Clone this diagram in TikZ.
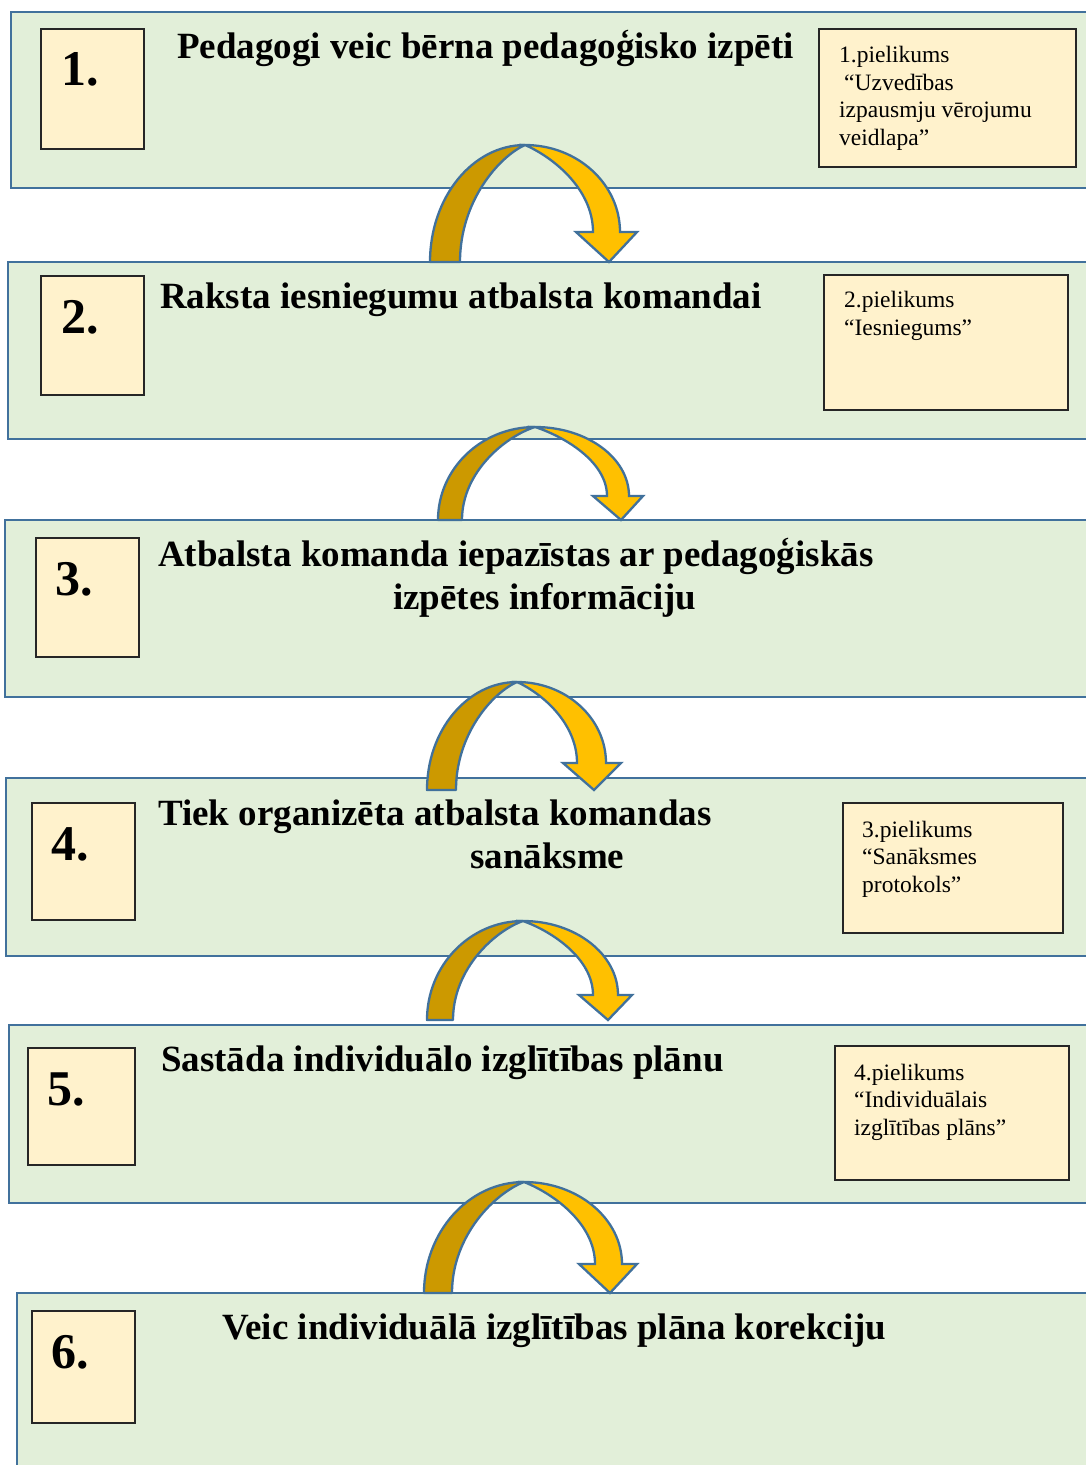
\documentclass[tikz,border=0pt]{standalone}
\usepackage{fontspec}
\setmainfont{Liberation Serif}
\usetikzlibrary{positioning}

\definecolor{panelfill}{HTML}{E2EFD9}
\definecolor{panelline}{HTML}{41719C}
\definecolor{stepfill}{HTML}{FFF2CC}
\definecolor{arrowdark}{HTML}{CC9900}
\definecolor{arrowlight}{HTML}{FFC000}

\begin{document}
\begin{tikzpicture}[x=1pt,y=-1pt,
  panel/.style={rectangle,draw=panelline,fill=panelfill,line width=2.5pt,anchor=north west,inner sep=0pt,outer sep=0pt},
  numbox/.style={rectangle,draw=black!85,fill=stepfill,line width=1.2pt,anchor=north west,inner sep=0pt,outer sep=0pt},
  numtext/.style={anchor=base west,inner sep=0pt,font=\fontsize{50}{50}\selectfont\bfseries},
  title/.style={anchor=base west,inner sep=0pt,align=left,font=\fontsize{37}{43}\selectfont\bfseries},
  annex/.style={anchor=base west,inner sep=0pt,align=left,font=\fontsize{23.5}{27.5}\selectfont},
  arrowback/.style={draw=panelline,line width=2.3pt,fill=arrowdark,line join=round},
  arrowfront/.style={draw=panelline,line width=2.3pt,fill=arrowlight,line join=miter}]

  \useasboundingbox (0,0) rectangle (1085,1465);

  % panels
  \node[panel,minimum width=1100pt,minimum height=176pt] (p1) at (11,12) {};
  \node[panel,minimum width=1100pt,minimum height=177pt] (p2) at (8,262) {};
  \node[panel,minimum width=1100pt,minimum height=177pt] (p3) at (5,520) {};
  \node[panel,minimum width=1100pt,minimum height=178pt] (p4) at (6,778) {};
  \node[panel,minimum width=1100pt,minimum height=178pt] (p5) at (9,1025) {};
  \node[panel,minimum width=1100pt,minimum height=200pt] (p6) at (17,1293) {};

  % curved arrows between the steps
  \foreach \xo/\xi/\yb/\xa/\ya/\yh/\si/\so/\hl/\hr/\xt in {
      430/460/262/525/145/232/593/620/576/637/609,
      438/462/520/535/427/496/607/629/593/643/621,
      427/456/790/517/682/763/577/606/563/621/594,
      427/453/1020/523/921/995/593/618/579/632/608,
      424/452/1293/524/1182/1264/595/622/579/637/610}
  {
    \draw[arrowback] (\xo,\yb)
      .. controls (\xo,{\yb-0.552*(\yb-\ya)}) and ({\xa-0.552*(\xa-\xo)},\ya) .. (\xa,\ya)
      .. controls ({\xa-0.4*(\xa-\xi)},{\ya+0.1*(\yb-\ya)}) and (\xi,{\yb-0.52*(\yb-\ya)}) .. (\xi,\yb)
      -- cycle;
    \draw[arrowfront] (\xa,\ya)
      .. controls ({\xa+0.552*(\so-\xa)},\ya) and (\so,{\yh-0.552*(\yh-\ya)}) .. (\so,\yh)
      -- (\hr,\yh) -- (\xt,\yb) -- (\hl,\yh) -- (\si,\yh)
      .. controls (\si,{\yh-0.5*(\yh-\ya)}) and ({\xa+0.4*(\si-\xa)},{\ya+0.1*(\yb-\ya)}) .. (\xa,\ya)
      -- cycle;
  }

  % step numbers
  \node[numbox,minimum width=103pt,minimum height=120pt] (n1) at (41,29) {};
  \node[numbox,minimum width=103pt,minimum height=119pt] (n2) at (41,276) {};
  \node[numbox,minimum width=103pt,minimum height=119pt] (n3) at (36,538) {};
  \node[numbox,minimum width=103pt,minimum height=117pt] (n4) at (32,803) {};
  \node[numbox,minimum width=107pt,minimum height=117pt] (n5) at (28,1048) {};
  \node[numbox,minimum width=103pt,minimum height=112pt] (n6) at (32,1311) {};

  \node[numtext] (m1) at (61,85) {1.};
  \node[numtext] (m2) at (61,333) {2.};
  \node[numtext] (m3) at (55,595) {3.};
  \node[numtext] (m4) at (51,860) {4.};
  \node[numtext] (m5) at (47,1105) {5.};
  \node[numtext] (m6) at (51,1368) {6.};

  % step titles (base = last line)
  \node[title] (t1) at (177,58) {Pedagogi veic bērna pedagoģisko izpēti};
  \node[title] (t2) at (160,308) {Raksta iesniegumu atbalsta komandai};
  \node[title] (t3) at (158,609) {Atbalsta komanda iepazīstas ar pedagoģiskās\\\hspace*{235pt}izpētes informāciju};
  \node[title] (t4) at (158,868) {Tiek organizēta atbalsta komandas\\\hspace*{312pt}sanāksme};
  \node[title] (t5) at (161,1071) {Sastāda individuālo izglītības plānu};
  \node[title] (t6) at (222,1339) {Veic individuālā izglītības plāna korekciju};

  % annexes
  \node[numbox,minimum width=257pt,minimum height=138pt] (a1) at (819,29) {};
  \node[numbox,minimum width=244pt,minimum height=135pt] (a2) at (824,275) {};
  \node[numbox,minimum width=220pt,minimum height=130pt] (a3) at (843,803) {};
  \node[numbox,minimum width=234pt,minimum height=134pt] (a4) at (835,1046) {};

  \node[annex] (x1) at (839,145) {1.pielikums\\\hspace*{5pt}“Uzvedības\\izpausmju vērojumu\\veidlapa”};
  \node[annex] (x2) at (844,335) {2.pielikums\\“Iesniegums”};
  \node[annex] (x3) at (862,892) {3.pielikums\\“Sanāksmes\\protokols”};
  \node[annex] (x4) at (854,1135) {4.pielikums\\“Individuālais\\izglītības plāns”};
\end{tikzpicture}
\end{document}
